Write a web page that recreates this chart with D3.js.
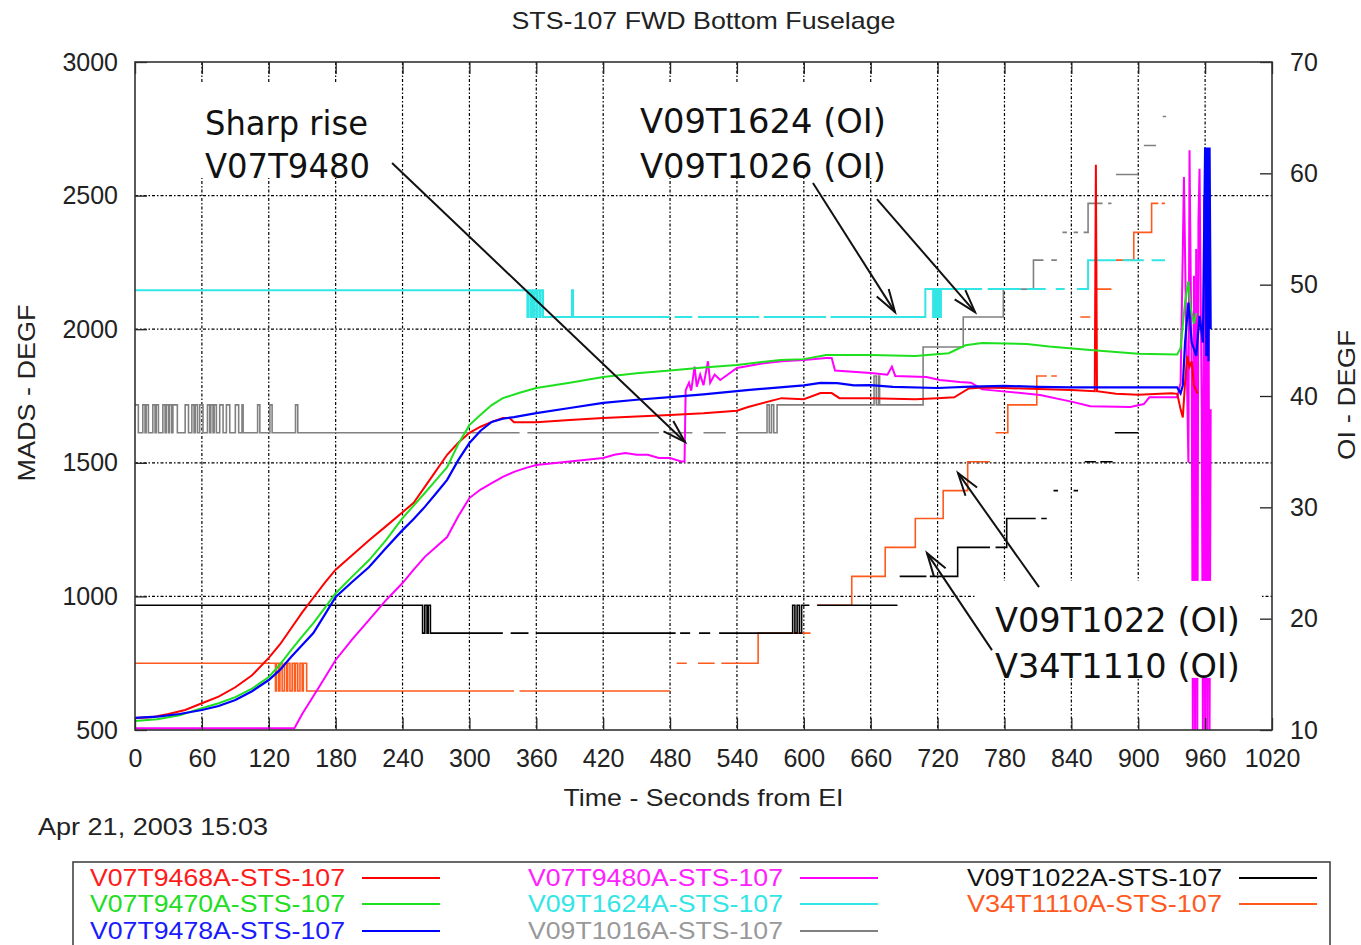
<!DOCTYPE html>
<html><head><meta charset="utf-8">
<script src="https://cdn.jsdelivr.net/npm/d3@7"></script>
<style>
body{margin:0;background:#fff}
text{font-family:"Liberation Sans",Arial,sans-serif;fill:#222}
</style>
</head><body>
<svg id="chart" width="1361" height="945"></svg>
<script>
// ---------- data ----------
const timeTicks = d3.range(0, 1021, 60);
const madsTicks = [500, 1000, 1500, 2000, 2500, 3000];
const oiTicks = [10, 20, 30, 40, 50, 60, 70];
const madsGrid = [1000, 1500, 2000, 2500];
const timeGrid = d3.range(60, 961, 60);

// MADS series (left axis), [seconds, degF]
const v07t9468 = [[0,545],[15,548],[30,560],[45,575],[60,600],[75,625],[90,660],[105,705],[120,770],[130,820],[140,880],[150,940],[160,995],[170,1050],[180,1100],[195,1155],[210,1210],[225,1262],[240,1315],[250,1350],[260,1410],[270,1470],[280,1530],[290,1575],[300,1612],[310,1635],[320,1653],[330,1668],[336,1668],[340,1652],[360,1652],[390,1660],[420,1668],[450,1673],[480,1679],[510,1685],[540,1695],[550,1709],[580,1742],[600,1738],[615,1761],[625,1761],[632,1742],[660,1742],[700,1738],[720,1742],[735,1745],[748,1778],[760,1782],[780,1780],[810,1776],[840,1772],[861,1768],[862,2615],[863,1768],[880,1758],[900,1755],[930,1760],[935,1758],[938,1700],[940,1670],[942,1800],[944,1900],[946,1860],[948,1880],[950,1790],[953,1760]];
const v07t9470 = [[0,534],[20,540],[40,555],[60,582],[75,600],[90,623],[105,655],[120,698],[130,745],[140,799],[150,850],[160,900],[170,955],[180,1012],[195,1075],[210,1136],[225,1210],[240,1293],[250,1340],[260,1387],[270,1435],[280,1484],[290,1570],[300,1641],[310,1680],[320,1716],[330,1742],[345,1762],[360,1780],[390,1800],[420,1821],[450,1835],[480,1845],[510,1857],[540,1866],[579,1885],[600,1888],[620,1903],[660,1903],[700,1900],[730,1910],[745,1940],[760,1948],[800,1945],[820,1935],[857,1922],[900,1908],[935,1905],[938,1930],[942,2100],[945,2180],[947,2080],[950,2020],[952,2060]];
const v07t9478 = [[0,545],[20,550],[40,560],[60,575],[75,590],[90,612],[105,645],[120,687],[130,725],[140,773],[150,818],[160,863],[170,930],[180,998],[195,1055],[210,1110],[225,1180],[240,1248],[250,1290],[260,1335],[270,1385],[280,1436],[290,1510],[300,1574],[310,1620],[320,1653],[330,1665],[340,1671],[360,1686],[390,1705],[420,1724],[450,1736],[480,1746],[510,1756],[549,1772],[600,1790],[615,1799],[630,1798],[645,1790],[660,1791],[680,1784],[720,1780],[750,1785],[780,1788],[810,1784],[840,1782],[900,1782],[935,1782],[938,1760],[940,1790],[942,1950],[945,2100],[948,1950],[952,1900],[955,2050],[958,1950],[960,2680],[961,1900],[962,2680],[963,1880],[964,2680],[965,2000]];
const v07t9480 = [[0,507],[143,507],[150,560],[165,660],[180,762],[195,840],[210,912],[225,985],[240,1050],[250,1100],[260,1148],[270,1185],[280,1222],[290,1300],[300,1368],[310,1400],[320,1424],[330,1447],[340,1466],[350,1480],[360,1492],[390,1505],[420,1518],[430,1530],[440,1537],[450,1530],[460,1530],[470,1518],[480,1518],[490,1505],[493,1505],[494,1772],[497,1800],[499,1770],[502,1860],[504,1785],[507,1830],[510,1790],[514,1880],[516,1800],[520,1830],[525,1810],[530,1825],[540,1855],[560,1870],[580,1880],[600,1885],[620,1892],[625,1892],[628,1845],[660,1836],[675,1830],[679,1860],[682,1825],[710,1821],[722,1810],[740,1802],[750,1800],[760,1775],[767,1772],[812,1754],[841,1728],[857,1712],[893,1709],[905,1720],[910,1745],[935,1745],[938,1800],[940,2300],[941,2570],[943,2000],[945,1500],[946,2670],[948,1800],[949,500],[950,2200],[951,500],[952,2300],[953,500],[954,2400],[955,2600],[957,1700],[958,500],[959,2500],[960,500],[961,2500],[962,500],[963,2400],[964,500],[965,1700]];

// OI series (right axis), step data, null = no data
const v09t1624 = [[0,49.5],[352,47.1],[353,49.5],[355,47.1],[356,49.5],[357,47.1],[358,49.5],[360,47.1],[361,49.5],[363,47.1],[364,49.5],[366,47.1],[392,49.5],[393,47.1],[480,47.1],[481,null],[484,47.1],[500,47.1],[501,null],[505,47.1],[560,47.1],[561,null],[564,47.1],[620,47.1],[621,null],[624,47.1],[709,49.6],[716,47.1],[717,49.6],[718,47.1],[719,49.6],[720,47.1],[721,49.6],[722,47.1],[723,49.6],[760,49.6],[761,null],[765,49.6],[795,49.6],[796,null],[800,49.6],[817,49.6],[818,null],[826,49.6],[834,49.6],[835,null],[845,49.6],[855,52.2],[880,52.2],[881,null],[886,52.2],[905,52.2],[906,null],[912,52.2],[924,52.2]];
const v09t1016 = [[0,39.2],[3,36.7],[7,39.2],[9,36.7],[10,39.2],[12,36.7],[16,39.2],[18,36.7],[19,39.2],[21,36.7],[25,39.2],[27,36.7],[28,39.2],[30,36.7],[31,39.2],[33,36.7],[34,39.2],[38,36.7],[45,39.2],[48,36.7],[51,39.2],[53,36.7],[54,39.2],[56,36.7],[58,39.2],[61,36.7],[65,39.2],[67,36.7],[68,39.2],[70,36.7],[71,39.2],[73,36.7],[76,39.2],[79,36.7],[82,39.2],[85,36.7],[90,39.2],[93,36.7],[96,39.2],[97,36.7],[110,39.2],[112,36.7],[121,39.2],[123,36.7],[144,39.2],[146,36.7],[345,36.7],[346,null],[352,36.7],[470,36.7],[471,null],[478,36.7],[500,36.7],[501,null],[510,36.7],[530,36.7],[531,null],[540,36.7],[567,39.2],[569,36.7],[571,39.2],[573,36.7],[576,39.2],[663,41.8],[665,39.2],[667,41.8],[668,39.2],[707,44.4],[743,47.1],[779,49.6],[806,52.2],[815,52.2],[816,null],[822,52.2],[827,52.2],[828,null],[832,54.7],[836,54.7],[837,null],[842,54.7],[846,54.7],[847,null],[851,54.7],[855,57.3],[868,57.3],[869,null],[873,57.3],[876,57.3],[877,null],[880,59.9],[900,59.9],[901,null],[905,62.5],[916,62.5],[917,null],[922,65.1],[925,65.1]];
const v09t1022 = [[0,21.2],[258,18.7],[260,21.2],[262,18.7],[263,21.2],[265,18.7],[330,18.7],[331,null],[337,18.7],[353,18.7],[354,null],[360,18.7],[485,18.7],[486,null],[489,18.7],[498,18.7],[499,null],[506,18.7],[516,18.7],[517,null],[524,18.7],[590,21.2],[592,18.7],[594,21.2],[596,18.7],[598,21.2],[605,21.2],[606,null],[612,21.2],[684,21.2],[685,null],[686,23.8],[710,23.8],[711,null],[713,23.8],[738,26.4],[767,26.4],[768,null],[772,26.4],[782,29.0],[808,29.0],[809,null],[813,29.0],[818,29.0],[819,null],[824,31.5],[828,31.5],[829,null],[842,31.5],[846,31.5],[847,null],[852,34.1],[862,34.1],[863,null],[866,34.1],[877,34.1],[878,null],[879,36.7],[900,36.7]];
const v34t1110 = [[0,16.0],[126,13.5],[127,16.0],[129,13.5],[130,16.0],[132,13.5],[134,16.0],[136,13.5],[137,16.0],[139,13.5],[141,16.0],[143,13.5],[144,16.0],[146,13.5],[148,16.0],[150,13.5],[151,16.0],[154,13.5],[340,13.5],[341,null],[345,13.5],[480,13.5],[481,null],[486,16.0],[495,16.0],[496,null],[505,16.0],[520,16.0],[521,null],[526,16.0],[559,18.7],[606,18.7],[607,null],[612,21.2],[643,23.8],[673,26.4],[700,29.0],[725,31.5],[747,34.1],[767,34.1],[768,null],[772,36.7],[783,39.2],[809,41.8],[818,41.8],[819,null],[822,41.8],[827,41.8],[828,null],[848,47.1],[857,47.1],[858,null],[863,49.6],[876,49.6],[877,null],[880,52.2],[896,54.7],[912,57.3],[918,57.3],[919,null],[921,57.3],[924,57.3]];

const seriesNames = ["V07T9468A-STS-107","V07T9470A-STS-107","V07T9478A-STS-107","V07T9480A-STS-107","V09T1624A-STS-107","V09T1016A-STS-107","V09T1022A-STS-107","V34T1110A-STS-107"];

// ---------- config ----------
const series = [
  {name: seriesNames[0], data: v07t9468, axis: "L", color: "#ff0000", w: 2},
  {name: seriesNames[1], data: v07t9470, axis: "L", color: "#1ee01e", w: 2},
  {name: seriesNames[2], data: v07t9478, axis: "L", color: "#0000ff", w: 2.2},
  {name: seriesNames[3], data: v07t9480, axis: "L", color: "#ff00ff", w: 2},
  {name: seriesNames[4], data: v09t1624, axis: "R", color: "#33e6e6", w: 2},
  {name: seriesNames[5], data: v09t1016, axis: "R", color: "#808080", w: 1.6},
  {name: seriesNames[6], data: v09t1022, axis: "R", color: "#000000", w: 1.6},
  {name: seriesNames[7], data: v34t1110, axis: "R", color: "#ff5a1e", w: 1.6}
];
const drawOrder = [5, 7, 6, 4, 3, 0, 1, 2];

const svg = d3.select("#chart");
const L = 135, R = 1272, T = 62, B = 730;
const x = d3.scaleLinear([0, 1020], [L, R]);
const yL = d3.scaleLinear([500, 3000], [B, T]);
const yR = d3.scaleLinear([10, 70], [B, T]);

svg.append("defs").append("clipPath").attr("id", "clip")
  .append("rect").attr("x", L).attr("y", T).attr("width", R - L).attr("height", B - T);

// grid
const grid = svg.append("g").attr("stroke", "#000").attr("stroke-width", 1.2)
  .attr("stroke-dasharray", "3,2,1.5,2");
grid.selectAll("line.v").data(timeGrid).join("line")
  .attr("x1", d => x(d)).attr("x2", d => x(d)).attr("y1", T).attr("y2", B);
grid.selectAll("line.h").data(madsGrid).join("line")
  .attr("y1", d => yL(d)).attr("y2", d => yL(d)).attr("x1", L).attr("x2", R);

// lines
const plot = svg.append("g").attr("clip-path", "url(#clip)");
drawOrder.forEach(i => {
  const s = series[i];
  const y = s.axis === "L" ? yL : yR;
  const line = d3.line()
    .defined(d => d[1] != null)
    .x(d => x(d[0])).y(d => y(d[1]))
    .curve(s.axis === "R" ? d3.curveStepAfter : d3.curveLinear);
  plot.append("path").datum(s.data).attr("d", line)
    .attr("fill", "none").attr("stroke", s.color).attr("stroke-width", s.w)
    .attr("stroke-linejoin", "miter");
});

// annotations (positions in data units)
const notes = [
  {lines: ["Sharp rise", "V07T9480"], t: 62.8, v: [2727, 2566], len: [163, 165]},
  {lines: ["V09T1624 (OI)", "V09T1026 (OI)"], t: 453, v: [2734, 2566], len: [246, 246]},
  {lines: ["V09T1022 (OI)", "V34T1110 (OI)"], t: 771.5, v: [867, 695], len: [245, 245]}
];
const arrows = [
  {from: [230.6, 2622], to: [493.4, 1578]},
  {from: [608.2, 2547], to: [681.8, 2064]},
  {from: [665.6, 2487], to: [753.6, 2064]},
  {from: [811, 1035], to: [738.3, 1462]},
  {from: [768.8, 799], to: [710.5, 1162]}
];
const noteG = svg.append("g");
notes.forEach(n => {
  const g = noteG.append("g");
  const rect = g.append("rect").attr("fill", "#fff");
  n.lines.forEach((s, i) => {
    g.append("text").attr("x", x(n.t)).attr("y", yL(n.v[i]))
      .style("font-family", "'DejaVu Sans', Verdana, sans-serif")
      .style("font-size", "33px").style("fill", "#111")
      .attr("textLength", n.len[i]).attr("lengthAdjust", "spacingAndGlyphs")
      .text(s);
  });
  const bb = g.node().getBBox();
  rect.attr("x", bb.x - 20).attr("y", bb.y - 20).attr("width", bb.width + 42).attr("height", bb.height + 12);
});
const arrG = svg.append("g").attr("stroke", "#111").attr("stroke-width", 2).attr("fill", "none");
arrows.forEach(a => {
  const x1 = x(a.from[0]), y1 = yL(a.from[1]), x2 = x(a.to[0]), y2 = yL(a.to[1]);
  arrG.append("line").attr("x1", x1).attr("y1", y1).attr("x2", x2).attr("y2", y2);
  const ang = Math.atan2(y1 - y2, x1 - x2), hl = 24, sp = 0.3;
  const p = d3.path();
  p.moveTo(x2 + hl * Math.cos(ang - sp), y2 + hl * Math.sin(ang - sp));
  p.lineTo(x2, y2);
  p.lineTo(x2 + hl * Math.cos(ang + sp), y2 + hl * Math.sin(ang + sp));
  arrG.append("path").attr("d", p.toString());
});

// axes
function styleAxis(g) {
  g.select(".domain").remove();
  g.selectAll(".tick line").attr("stroke", "#222").attr("stroke-width", 1.3);
  g.selectAll(".tick text").style("font-size", "25px").style("fill", "#222")
    .style("font-family", "'Liberation Sans', Arial, sans-serif");
}
svg.append("g").attr("transform", `translate(0,${B})`)
  .call(d3.axisBottom(x).tickValues(timeTicks).tickSize(-12).tickPadding(19).tickFormat(d3.format("d")))
  .call(styleAxis);
svg.append("g").attr("transform", `translate(0,${T})`)
  .call(d3.axisTop(x).tickValues(timeTicks).tickSize(-12).tickFormat(""))
  .call(styleAxis);
svg.append("g").attr("transform", `translate(${L},0)`)
  .call(d3.axisLeft(yL).tickValues(madsTicks).tickSize(-12).tickPadding(17).tickFormat(d3.format("d")))
  .call(styleAxis);
svg.append("g").attr("transform", `translate(${R},0)`)
  .call(d3.axisRight(yR).tickValues(oiTicks).tickSize(-12).tickPadding(18).tickFormat(d3.format("d")))
  .call(styleAxis);

svg.append("rect").attr("x", L).attr("y", T).attr("width", R - L).attr("height", B - T)
  .attr("fill", "none").attr("stroke", "#333").attr("stroke-width", 1.6);

// titles
function label(txt, px, py, len, rot) {
  return svg.append("text").attr("text-anchor", "middle")
    .attr("transform", `translate(${px},${py})` + (rot ? ` rotate(${rot})` : ""))
    .style("font-size", "24px").attr("textLength", len).attr("lengthAdjust", "spacingAndGlyphs")
    .text(txt);
}
label("STS-107 FWD Bottom Fuselage", (L + R) / 2, 29, 384);
label("Time - Seconds from EI", (L + R) / 2, 806, 280);
label("MADS - DEGF", 35, 393, 177, -90);
label("OI - DEGF", 1355, 395, 130, -90);
svg.append("text").attr("x", 38).attr("y", 835).style("font-size", "24px")
  .attr("textLength", 230).attr("lengthAdjust", "spacingAndGlyphs").text("Apr 21, 2003 15:03");

// legend
const leg = svg.append("g");
leg.append("rect").attr("x", 73).attr("y", 862).attr("width", 1257).attr("height", 100)
  .attr("fill", "none").attr("stroke", "#444").attr("stroke-width", 1.6);
const colRight = [345, 783, 1222], rowY = [878, 904, 931];
const legendColors = ["#ff1a1a", "#22dd22", "#1a1aff", "#ff22ff", "#33e5e5", "#999999", "#111111", "#ff5a1e"];
series.forEach((s, i) => {
  const c = Math.floor(i / 3), r = i % 3;
  leg.append("text").attr("x", colRight[c]).attr("y", rowY[r] + 8).attr("text-anchor", "end")
    .style("font-size", "23px").style("fill", legendColors[i])
    .attr("textLength", 255).attr("lengthAdjust", "spacingAndGlyphs").text(s.name);
  leg.append("line").attr("x1", colRight[c] + 17).attr("x2", colRight[c] + 95)
    .attr("y1", rowY[r]).attr("y2", rowY[r]).attr("stroke", s.color).attr("stroke-width", 2);
});
</script>
</body></html>
